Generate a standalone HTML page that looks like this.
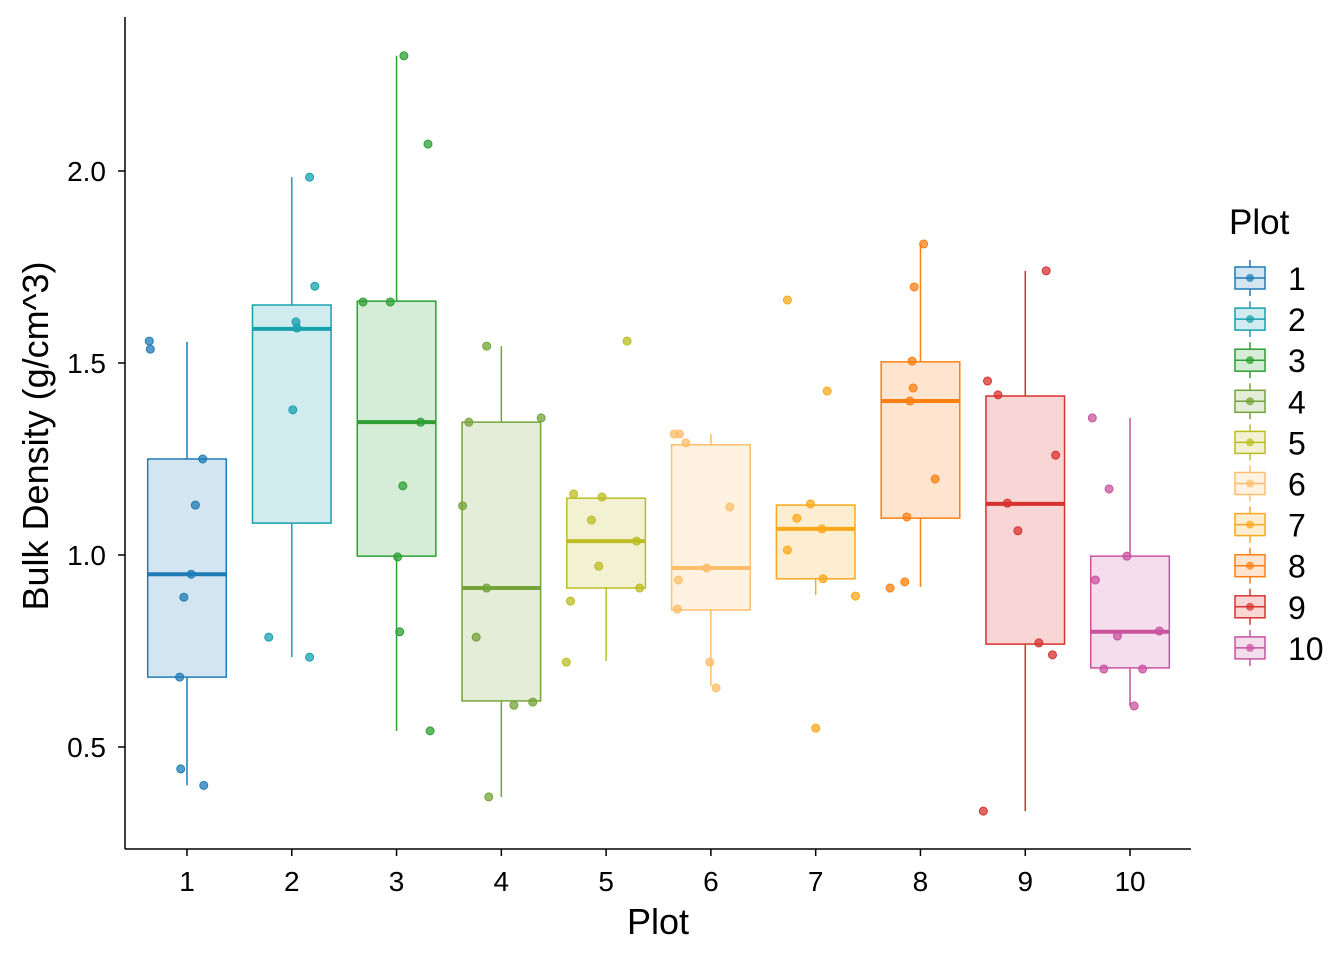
<!DOCTYPE html>
<html><head><meta charset="utf-8"><style>
body{margin:0;background:#fff;}
svg text{font-family:"Liberation Sans",sans-serif;}
</style></head><body>
<svg id="chart" width="1344" height="960" xmlns="http://www.w3.org/2000/svg"></svg>
<script>
const categories=['1','2','3','4','5','6','7','8','9','10'];
const colors=['#1f7bb6','#18a0ae','#2ca033','#74a33a','#bcbd22','#ffbe6a','#fca81a','#fd7f12','#d8322f','#c9539f'];
const q1=[0.682,1.083,0.997,0.62,0.914,0.857,0.938,1.096,0.768,0.706];
const medians=[0.95,1.589,1.346,0.914,1.036,0.966,1.068,1.401,1.133,0.80];
const q3=[1.25,1.651,1.661,1.346,1.148,1.287,1.13,1.503,1.414,0.997];
const whiskLow=[0.40,0.734,0.542,0.37,0.724,0.659,0.896,0.917,0.333,0.607];
const whiskHigh=[1.555,1.984,2.30,1.544,1.148,1.315,1.13,1.81,1.74,1.357];
const pointValues=[
[1.557,1.536,1.25,1.13,0.95,0.89,0.682,0.443,0.40],
[1.984,1.70,1.607,1.591,1.378,0.786,0.734],
[2.30,2.07,1.659,1.659,1.346,1.18,0.995,0.80,0.542],
[1.544,1.357,1.346,1.128,0.914,0.786,0.609,0.617,0.37],
[1.557,1.159,1.151,1.091,0.971,1.036,0.914,0.88,0.721],
[1.315,1.315,1.292,1.125,0.966,0.935,0.859,0.721,0.654],
[1.664,1.427,1.133,1.096,1.068,1.013,0.938,0.893,0.549],
[1.81,1.698,1.505,1.435,1.401,1.198,1.099,0.93,0.914],
[1.74,1.453,1.417,1.26,1.135,1.063,0.771,0.74,0.333],
[1.357,1.172,0.997,0.935,0.789,0.802,0.703,0.703,0.607]];
const pointJitter=[
[-0.36,-0.35,0.15,0.08,0.04,-0.03,-0.07,-0.06,0.16],
[0.17,0.22,0.04,0.05,0.01,-0.22,0.17],
[0.07,0.30,-0.32,-0.06,0.23,0.06,0.01,0.03,0.32],
[-0.14,0.38,-0.31,-0.37,-0.14,-0.24,0.12,0.30,-0.12],
[0.20,-0.31,-0.04,-0.14,-0.07,0.29,0.32,-0.34,-0.38],
[-0.35,-0.30,-0.24,0.18,-0.04,-0.31,-0.32,-0.01,0.05],
[-0.27,0.11,-0.05,-0.18,0.06,-0.27,0.07,0.38,0.00],
[0.03,-0.06,-0.08,-0.07,-0.10,0.14,-0.13,-0.15,-0.29],
[0.20,-0.36,-0.26,0.29,-0.17,-0.07,0.13,0.26,-0.40],
[-0.36,-0.20,-0.03,-0.33,-0.12,0.28,-0.25,0.12,0.04]];
const yTicks=[0.5,1.0,1.5,2.0];
const yTickLabels=['0.5','1.0','1.5','2.0'];

const svg=document.getElementById('chart');
const NS='http://www.w3.org/2000/svg';
const xScale=i=>187+i*104.78;
const yScale=v=>555-(v-1)*384;
const bw=39.3;
function mk(tag,attrs,parent){const e=document.createElementNS(NS,tag);for(const k in attrs)e.setAttribute(k,attrs[k]);(parent||svg).appendChild(e);return e;}

let ax=mk('line',{x1:125,y1:17,x2:125,y2:849,stroke:'#000','stroke-width':1.5});


ax=mk('line',{x1:125,y1:849,x2:1191,y2:849,stroke:'#000','stroke-width':1.5});


yTicks.forEach((v,i)=>{
  const y=yScale(v);
  const t=mk('line',{x1:118,y1:y,x2:125,y2:y,stroke:'#000','stroke-width':1.5});
  
  
  const l=mk('text',{x:106,y:y+10,'text-anchor':'end','font-size':28,fill:'#000'});
  l.textContent=yTickLabels[i];
  
  
});
categories.forEach((c,i)=>{
  const x=xScale(i);
  const t=mk('line',{x1:x,y1:849,x2:x,y2:856,stroke:'#000','stroke-width':1.5});
  
  
  const l=mk('text',{x:x,y:891,'text-anchor':'middle','font-size':28,fill:'#000'});
  l.textContent=c;
  
  
});
let tt=mk('text',{x:658,y:934,'text-anchor':'middle','font-size':36,fill:'#000'});
tt.textContent='Plot';


tt=mk('text',{x:0,y:0,'text-anchor':'middle','font-size':36,fill:'#000',transform:'translate(48,436) rotate(-90)'});
tt.textContent='Bulk Density (g/cm^3)';



categories.forEach((c,i)=>{
  const x=xScale(i),col=colors[i];
  const g=mk('g',{});
  
  
  mk('line',{x1:x,y1:yScale(whiskHigh[i]),x2:x,y2:yScale(q3[i]),stroke:col,'stroke-width':1.5},g);
  mk('line',{x1:x,y1:yScale(q1[i]),x2:x,y2:yScale(whiskLow[i]),stroke:col,'stroke-width':1.5},g);
  mk('rect',{x:x-bw,y:yScale(q3[i]),width:2*bw,height:yScale(q1[i])-yScale(q3[i]),fill:col,'fill-opacity':0.2,stroke:col,'stroke-width':1.5},g);
  mk('line',{x1:x-bw,y1:yScale(medians[i]),x2:x+bw,y2:yScale(medians[i]),stroke:col,'stroke-width':4},g);
  pointValues[i].forEach((v,j)=>{
    const p=mk('circle',{cx:x+pointJitter[i][j]*104.78,cy:yScale(v),r:4,fill:col,'fill-opacity':0.75,stroke:col,'stroke-width':1},g);
    
    
  });
});

const lg=mk('g',{});


tt=mk('text',{x:1229,y:234,'font-size':35,fill:'#000'},lg);
tt.textContent='Plot';


categories.forEach((c,i)=>{
  const cy=278+i*41.1,col=colors[i];
  const e=mk('g',{},lg);
  
  
  mk('line',{x1:1250,y1:cy-18,x2:1250,y2:cy+18,stroke:col,'stroke-width':1.5},e);
  mk('rect',{x:1235,y:cy-11,width:30,height:22,fill:'#fff',stroke:col,'stroke-width':1.5},e);
  mk('rect',{x:1235,y:cy-11,width:30,height:22,fill:col,'fill-opacity':0.2,stroke:'none'},e);
  mk('line',{x1:1235,y1:cy,x2:1265,y2:cy,stroke:col,'stroke-width':1.5},e);
  mk('circle',{cx:1250,cy:cy,r:4,fill:col,'fill-opacity':0.75},e);
  const l=mk('text',{x:1288,y:cy+12,'font-size':32,fill:'#000'},e);
  l.textContent=c;
});
</script>
</body></html>
